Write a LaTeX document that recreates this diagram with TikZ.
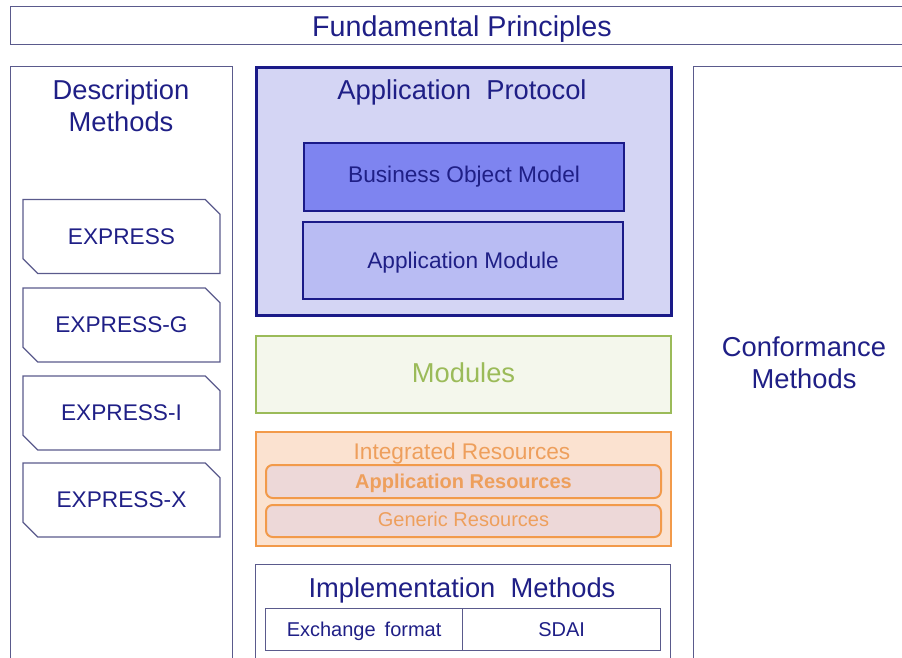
\documentclass[tikz,border=0pt]{standalone}
\usepackage{fontspec}
\setmainfont{Liberation Sans}
\usepackage{xcolor}
\usetikzlibrary{shapes.misc}
\definecolor{navy}{HTML}{1F1F86}
\definecolor{apline}{HTML}{1A1A88}
\definecolor{apfill}{HTML}{D4D5F4}
\definecolor{bomfill}{HTML}{7E84F0}
\definecolor{amfill}{HTML}{B9BCF3}
\definecolor{greyline}{HTML}{5A5A8C}
\definecolor{grn}{HTML}{9BBB59}
\definecolor{grnfill}{HTML}{F4F7EC}
\definecolor{orng}{HTML}{F29A4A}
\definecolor{orngfill}{HTML}{FBE2D0}
\definecolor{orngin}{HTML}{EDD8D8}
\definecolor{orngtext}{HTML}{EE9F5C}
\tikzset{
  box/.style={draw, rectangle, inner sep=0pt, anchor=north west},
  big/.style={font=\fontsize{20.5}{24}\selectfont},
  mid/.style={font=\fontsize{17}{20}\selectfont},
  small/.style={font=\fontsize{15}{18}\selectfont},
  smallbold/.style={font=\fontsize{15}{18}\selectfont\bfseries},
  lang/.style={draw=greyline, line width=0.9pt, chamfered rectangle,
    chamfered rectangle corners={north east, south west},
    chamfered rectangle xsep=5.5pt, chamfered rectangle ysep=5.5pt,
    minimum width=147.75pt, minimum height=55.5pt, inner sep=0pt,
    text=navy, mid}
}
\begin{document}
\begin{tikzpicture}[x=0.75pt, y=-0.75pt]
\useasboundingbox (0,0) rectangle (902,657);
\clip (0,0) rectangle (902,657);
% верх
\node [box, draw=greyline, line width=1pt, minimum width=675pt, minimum height=28.5pt] (fp) at (10,6) {};
\node [font=\fontsize{21.5}{24}\selectfont, text=navy] (fpt) at (462,29) {Fundamental Principles};
% слева
\node [box, draw=greyline, line width=1pt, minimum width=166.5pt, minimum height=453pt] (dm) at (10,66) {};
\node [big, text=navy, align=center] (dmt) at (121,106) {Description\\Methods};
\node [lang] (ex1) at (121.5,236.5) {EXPRESS};
\node [lang] (ex2) at (121.5,325) {EXPRESS-G};
\node [lang] (ex3) at (121.5,413) {EXPRESS-I};
\node [lang] (ex4) at (121.5,500) {EXPRESS-X};
% справа
\node [box, draw=greyline, line width=1pt, minimum width=162.75pt, minimum height=453pt] (cm) at (693,66) {};
\node [big, text=navy, align=center] (cmt) at (804,363) {Conformance\\Methods};
% протокол
\node [box, draw=apline, fill=apfill, line width=2pt, minimum width=311.25pt, minimum height=186pt] (ap) at (255,66) {};
\node [big, text=navy] (apt) at (462,92) {Application\ \ Protocol};
\node [box, draw=apline, fill=bomfill, line width=1.6pt, minimum width=240pt, minimum height=51pt] (bom) at (303,142) {};
\node [mid, text=navy] (bomt) at (bom.center) {Business Object Model};
\node [box, draw=apline, fill=amfill, line width=1.6pt, minimum width=240pt, minimum height=57.75pt] (am) at (302,221) {};
\node [mid, text=navy, yshift=-1.5pt] (amt) at (am.center) {Application Module};
% модули
\node [box, draw=grn, fill=grnfill, line width=1.5pt, minimum width=311.25pt, minimum height=57.75pt] (md) at (255,335) {};
\node [big, text=grn, yshift=1pt] (mdt) at (md.center) {Modules};
% ресурсы
\node [box, draw=orng, fill=orngfill, line width=1.5pt, minimum width=311.25pt, minimum height=85.5pt] (ir) at (255,431) {};
\node [mid, text=orngtext] (irt) at (462,454) {Integrated Resources};
\node [box, draw=orng, fill=orngin, line width=1.5pt, rounded corners=5pt, minimum width=296.25pt, minimum height=24.75pt] (ar) at (265,464) {};
\node [smallbold, text=orngtext, yshift=-1pt] (art) at (ar.center) {Application Resources};
\node [box, draw=orng, fill=orngin, line width=1.5pt, rounded corners=5pt, minimum width=296.25pt, minimum height=24pt] (gr) at (265,504) {};
\node [small, text=orngtext, yshift=1pt] (grt) at (gr.center) {Generic Resources};
% реализация
\node [box, draw=greyline, line width=1pt, minimum width=311.25pt, minimum height=79.5pt] (im) at (255,564) {};
\node [big, text=navy] (imt) at (462,590) {Implementation\ \ Methods};
\node [box, draw=greyline, line width=0.9pt, minimum width=147.75pt, minimum height=31.5pt] (xf) at (265,608) {};
\node [small, text=navy, yshift=-1.5pt] (xft) at (xf.center) {Exchange\hspace{0.45em}format};
\node [box, draw=greyline, line width=0.9pt, minimum width=148.5pt, minimum height=31.5pt] (sd) at (462,608) {};
\node [small, text=navy] (sdt) at (sd.center) {SDAI};
\end{tikzpicture}
\end{document}
